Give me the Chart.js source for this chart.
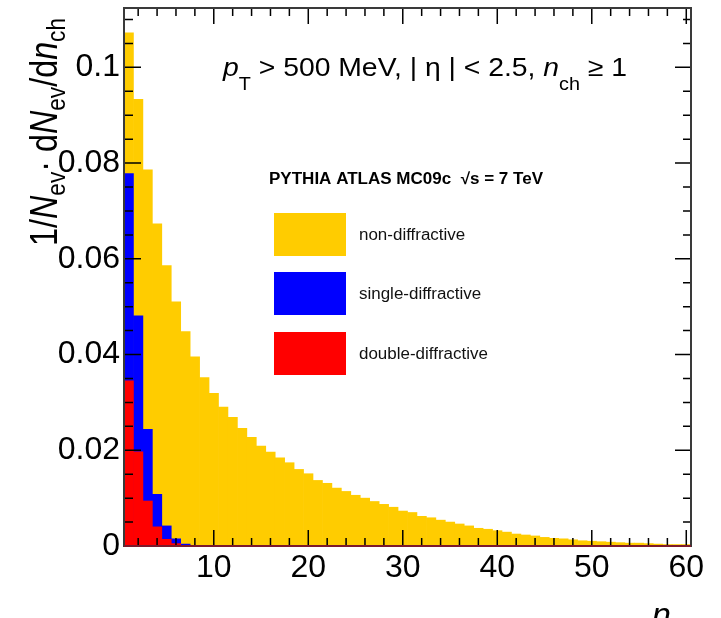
<!DOCTYPE html>
<html>
<head>
<meta charset="utf-8">
<script src="https://cdn.jsdelivr.net/npm/chart.js@4.4.1/dist/chart.umd.min.js"></script>
<style>
  html, body { margin: 0; padding: 0; background: #fff; }
  #wrap { width: 721px; height: 618px; position: relative; }
</style>
</head>
<body>
<div id="wrap"><canvas id="nchChart"></canvas></div>
<script>
// n_ch bins
const nchBins = [
    1, 2, 3, 4, 5, 6, 7, 8, 9, 10, 11, 12, 13, 14, 15, 16, 17, 18, 19, 20,
    21, 22, 23, 24, 25, 26, 27, 28, 29, 30, 31, 32, 33, 34, 35, 36, 37, 38, 39, 40,
    41, 42, 43, 44, 45, 46, 47, 48, 49, 50, 51, 52, 53, 54, 55, 56, 57, 58, 59, 60
];

const nonDiffractive = [
    0.1072, 0.0933, 0.0786, 0.0673, 0.0586, 0.0510, 0.0448, 0.0395, 0.0352, 0.0319,
    0.0290, 0.0269, 0.0246, 0.0227, 0.0209, 0.0196, 0.0184, 0.0174, 0.0160, 0.0151,
    0.0137, 0.0131, 0.0121, 0.0114, 0.0106, 0.0100, 0.0093, 0.0087, 0.0081, 0.0073,
    0.0070, 0.0062, 0.0059, 0.0054, 0.0050, 0.0046, 0.0042, 0.0037, 0.0035, 0.0032,
    0.0029, 0.0025, 0.0023, 0.0021, 0.0018, 0.0016, 0.0015, 0.0013, 0.0011, 0.0010,
    0.0009, 0.0008, 0.0007, 0.0006, 0.0006, 0.0005, 0.0004, 0.0003, 0.0003, 0.0003
];

const singleDiffractive = [
    0.0778, 0.0481, 0.0244, 0.0108, 0.0042, 0.0015, 0.0004, 0.0001, 0, 0,
    0, 0, 0, 0, 0, 0, 0, 0, 0, 0, 0, 0, 0, 0, 0, 0, 0, 0, 0, 0,
    0, 0, 0, 0, 0, 0, 0, 0, 0, 0, 0, 0, 0, 0, 0, 0, 0, 0, 0, 0,
    0, 0, 0, 0, 0, 0, 0, 0, 0, 0
];

const doubleDiffractive = [
    0.0345, 0.0197, 0.0094, 0.0040, 0.0014, 0.0005, 0.0001, 0, 0, 0,
    0, 0, 0, 0, 0, 0, 0, 0, 0, 0, 0, 0, 0, 0, 0, 0, 0, 0, 0, 0,
    0, 0, 0, 0, 0, 0, 0, 0, 0, 0, 0, 0, 0, 0, 0, 0, 0, 0, 0, 0,
    0, 0, 0, 0, 0, 0, 0, 0, 0, 0
];

const seriesLabels = ['non-diffractive', 'single-diffractive', 'double-diffractive'];
const seriesColors = ['#ffcc00', '#0000ff', '#ff0000'];

const xTicks = [10, 20, 30, 40, 50, 60];
const xMinorTicks = [2, 4, 6, 8, 12, 14, 16, 18, 22, 24, 26, 28, 32, 34, 36, 38, 42, 44, 46, 48, 52, 54, 56, 58];
const yTicks = [0, 0.02, 0.04, 0.06, 0.08, 0.1];
const yTickLabels = ['0', '0.02', '0.04', '0.06', '0.08', '0.1'];
const yMinorTicks = [0.005, 0.01, 0.015, 0.025, 0.03, 0.035, 0.045, 0.05, 0.055, 0.065, 0.07,
    0.075, 0.085, 0.09, 0.095, 0.105, 0.11];

const FONT = "'Liberation Sans', Arial, Helvetica, sans-serif";

// text pieces: t = text, it = italic, sub = subscript, b = bold
const headerText = [
    { t: 'p', it: true }, { t: 'T', sub: true }, { t: ' > 500 MeV, | ' }, { t: '\u03b7' },
    { t: ' | < 2.5, ' }, { t: 'n', it: true }, { t: 'ch', sub: true }, { t: ' \u2265 1' }
];
const generatorText = [{ t: 'PYTHIA ATLAS MC09c  \u221as = 7 TeV', b: true }];
const yTitleText = [
    { t: '1/' }, { t: 'N', it: true }, { t: 'ev', sub: true }, { t: '\u00b7 d' }, { t: 'N', it: true },
    { t: 'ev', sub: true }, { t: '/d' }, { t: 'n', it: true }, { t: 'ch', sub: true }
];
const xTitleText = [{ t: 'n', it: true }, { t: 'ch', sub: true }];

function toXY(values) {
    return values.map((v, i) => ({ x: nchBins[i], y: v }));
}

function segFont(s, size) {
    const fs = s.sub ? size * 0.7 : size;
    return (s.it ? 'italic ' : '') + (s.b ? 'bold ' : '') + fs + 'px ' + FONT;
}

function richWidth(ctx, segs, size) {
    let w = 0;
    segs.forEach(s => {
        ctx.font = segFont(s, size);
        w += ctx.measureText(s.t).width;
    });
    return w;
}

// draws at the current origin, baseline at y = 0
function drawRich(ctx, segs, size, subDy) {
    let x = 0;
    segs.forEach(s => {
        ctx.font = segFont(s, size);
        ctx.fillText(s.t, x, s.sub ? size * subDy : 0);
        x += ctx.measureText(s.t).width;
    });
}

function drawRichAt(ctx, segs, x, y, size, width, subDy, sy) {
    ctx.save();
    ctx.translate(x, y);
    const w = richWidth(ctx, segs, size);
    ctx.scale(width / w, sy || 1);
    drawRich(ctx, segs, size, subDy);
    ctx.restore();
}

const rootFrame = {
    id: 'rootFrame',
    afterDatasetsDraw(chart) {
        const { ctx, chartArea: a, scales: { x, y } } = chart;
        ctx.save();

        // tick marks on all four sides
        ctx.strokeStyle = '#000';
        ctx.lineWidth = 1.5;
        ctx.beginPath();
        xTicks.forEach(v => {
            const px = x.getPixelForValue(v);
            ctx.moveTo(px, a.bottom); ctx.lineTo(px, a.bottom - 16);
            ctx.moveTo(px, a.top); ctx.lineTo(px, a.top + 16);
        });
        xMinorTicks.forEach(v => {
            const px = x.getPixelForValue(v);
            ctx.moveTo(px, a.bottom); ctx.lineTo(px, a.bottom - 8);
            ctx.moveTo(px, a.top); ctx.lineTo(px, a.top + 8);
        });
        yTicks.forEach(v => {
            const py = y.getPixelForValue(v);
            ctx.moveTo(a.left, py); ctx.lineTo(a.left + 17, py);
            ctx.moveTo(a.right, py); ctx.lineTo(a.right - 16, py);
        });
        yMinorTicks.forEach(v => {
            const py = y.getPixelForValue(v);
            ctx.moveTo(a.left, py); ctx.lineTo(a.left + 9, py);
            ctx.moveTo(a.right, py); ctx.lineTo(a.right - 8, py);
        });
        ctx.stroke();

        // frame
        ctx.strokeStyle = '#3a3a3a';
        ctx.lineWidth = 2;
        ctx.strokeRect(a.left, a.top, a.right - a.left, a.bottom - a.top);

        // outline of the double-diffractive histogram along zero
        ctx.strokeStyle = '#7d1a2c';
        ctx.beginPath();
        ctx.moveTo(a.left, a.bottom);
        ctx.lineTo(a.right, a.bottom);
        ctx.stroke();
        ctx.restore();
    },
    afterDraw(chart) {
        const { ctx } = chart;
        ctx.save();
        ctx.fillStyle = '#000';
        ctx.textBaseline = 'alphabetic';

        drawRichAt(ctx, headerText, 223, 76, 26, 404, 0.55);
        drawRichAt(ctx, generatorText, 269, 184, 16, 274, 0);

        // legend
        const boxTops = [213, 272, 332];
        boxTops.forEach((top, i) => {
            ctx.fillStyle = seriesColors[i];
            ctx.fillRect(274, top, 72, 43);
            ctx.fillStyle = '#111';
            ctx.save();
            ctx.translate(359, top + 27);
            ctx.scale(1.06, 1);
            ctx.font = '16px ' + FONT;
            ctx.fillText(seriesLabels[i], 0, 0);
            ctx.restore();
        });

        // y title, reading upwards
        ctx.fillStyle = '#000';
        ctx.save();
        ctx.translate(57, 246);
        ctx.rotate(-Math.PI / 2);
        drawRichAt(ctx, yTitleText, 0, 0, 33, 228, 0.2, 1.15);
        ctx.restore();

        // x title, mostly below the canvas edge
        drawRichAt(ctx, xTitleText, 652, 626, 33, 44, 0.3);
        ctx.restore();
    }
};

new Chart(document.getElementById('nchChart'), {
    type: 'bar',
    data: {
        datasets: [
            { label: seriesLabels[0], data: toXY(nonDiffractive), backgroundColor: seriesColors[0], order: 3 },
            { label: seriesLabels[1], data: toXY(singleDiffractive), backgroundColor: seriesColors[1], order: 2 },
            { label: seriesLabels[2], data: toXY(doubleDiffractive), backgroundColor: seriesColors[2], order: 1 }
        ]
    },
    options: {
        responsive: true,
        maintainAspectRatio: false,
        animation: false,
        layout: { padding: { left: 0, right: 30, top: 8, bottom: 0 } },
        datasets: {
            bar: { barPercentage: 1, categoryPercentage: 1, grouped: false, borderWidth: 0 }
        },
        plugins: {
            legend: { display: false },
            tooltip: { enabled: false }
        },
        scales: {
            x: {
                type: 'linear',
                min: 0.5,
                max: 60.5,
                offset: false,
                grid: { display: false, drawTicks: false, offset: false },
                border: { display: false },
                afterBuildTicks: s => { s.ticks = xTicks.map(v => ({ value: v })); },
                ticks: {
                    font: { family: FONT, size: 32 },
                    color: '#000',
                    padding: 3,
                    maxRotation: 0,
                    autoSkip: false
                },
                afterFit: s => {
                    s.height = 72;
                    s.paddingLeft = 0;
                    s.paddingRight = 0;
                }
            },
            y: {
                min: 0,
                max: 0.1124,
                grid: { display: false, drawTicks: false },
                border: { display: false },
                afterBuildTicks: s => { s.ticks = yTicks.map(v => ({ value: v })); },
                ticks: {
                    font: { family: FONT, size: 32 },
                    color: '#000',
                    padding: 4,
                    callback: v => yTickLabels[yTicks.indexOf(v)]
                },
                afterFit: s => {
                    s.width = 124;
                    s.paddingTop = 0;
                    s.paddingBottom = 0;
                }
            }
        }
    },
    plugins: [rootFrame]
});
</script>
</body>
</html>
